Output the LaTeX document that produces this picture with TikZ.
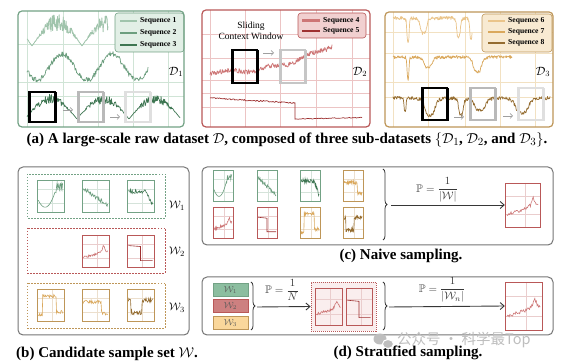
\documentclass[tikz,border=0pt]{standalone}
\usepackage{fontspec}
\usepackage{amsmath,amssymb}
\setmainfont{Liberation Serif}
\newfontfamily\cjkfont{Noto Sans CJK SC}
\usetikzlibrary{arrows.meta,decorations.pathreplacing,calc}
\definecolor{cgB}{RGB}{115,162,133}
\definecolor{cg1}{RGB}{160,196,172}
\definecolor{cg2}{RGB}{108,158,126}
\definecolor{cg3}{RGB}{62,118,82}
\definecolor{cgG}{RGB}{208,228,214}
\definecolor{cgL}{RGB}{226,239,230}
\definecolor{crB}{RGB}{185,88,88}
\definecolor{cr1}{RGB}{205,118,118}
\definecolor{cr2}{RGB}{158,48,48}
\definecolor{crG}{RGB}{236,196,196}
\definecolor{crL}{RGB}{241,208,208}
\definecolor{coB}{RGB}{190,150,88}
\definecolor{co1}{RGB}{234,196,138}
\definecolor{co2}{RGB}{218,168,92}
\definecolor{co3}{RGB}{148,108,48}
\definecolor{coG}{RGB}{242,225,194}
\definecolor{coL}{RGB}{248,234,210}
\definecolor{pnl}{RGB}{118,118,118}
\definecolor{arr}{RGB}{55,55,55}
\definecolor{wm}{RGB}{190,190,190}
\definecolor{wgF}{RGB}{140,190,160}
\definecolor{wrF}{RGB}{205,128,128}
\definecolor{woF}{RGB}{250,215,155}
\definecolor{pinkF}{RGB}{250,238,238}
\newcommand{\thumb}[7]{%
  \begin{scope}[shift={(#2,#3)},x=#4pt,y=-#5pt]
    \draw[#6!30, line width=0.4pt] (0.58,0)--(0.58,1) (0,0.3)--(1,0.3) (0,0.72)--(1,0.72);
    #7
    \draw[#6, line width=0.9pt] (0,0) rectangle (1,1);
    \node[inner sep=0pt, minimum width=#4pt, minimum height=#5pt] (#1) at (0.5,0.5) {};
  \end{scope}}
\newcommand{\cGa}{\draw[cg2, line width=0.6pt] plot[domain=0.05:0.95,samples=45] (\x,{max(0.2,0.85-3.5*(\x-0.3)*(\x-0.3))+0.12*(\x>0.68)*rand});}
\newcommand{\cGb}{\draw[cg2, line width=0.6pt] plot[domain=0.05:0.95,samples=45] (\x,{0.22+0.6*\x+0.07*rand});}
\newcommand{\cGc}{\draw[cg3, line width=0.6pt] plot[domain=0.05:0.95,samples=45] (\x,{0.35+(\x>0.7)*(\x-0.7)*1.8+0.07*rand});}
\newcommand{\cRa}{\draw[cr1, line width=0.6pt] plot[domain=0.05:0.95,samples=45] (\x,{0.72-0.22*\x-0.2/(1+(abs(\x-0.8)/0.05)^2)+0.04*rand});}
\newcommand{\cRb}{\draw[cr2, line width=0.6pt] (0.05,0.33) -- (0.5,0.36) -- (0.5,0.8) -- (0.95,0.8);}
\newcommand{\cOa}{\draw[co2, line width=0.6pt] plot[domain=0.05:0.95,samples=45] (\x,{0.22+0.6*(\x<0.2)+0.5*(\x>0.72)+0.05*rand});}
\newcommand{\cOb}{\draw[co2, line width=0.6pt] plot[domain=0.05:0.95,samples=45] (\x,{0.4+0.35*(\x>0.72)+0.06*rand});}
\newcommand{\cOc}{\draw[co3, line width=0.6pt] plot[domain=0.05:0.95,samples=45] (\x,{0.35+0.38*(\x>0.15)*(\x<0.55)+0.07*rand});}
\newcommand{\slidewin}[3]{\draw[#1, line width=1.2pt] #2 rectangle #3; \draw[#1, line width=0.5pt, shift={(0.9,0.7)}] #2 rectangle #3;}
\begin{document}
\pgfmathsetseed{11}
\begin{tikzpicture}[x=1pt,y=-1pt,
  declare function={hs(\ta,\tc,\tp)=0.5-0.5*cos(360/\tp*(\ta-\tc)); dip(\ta,\tc,\tw)=1/(1+(min(abs(\ta-\tc)/\tw,6))^4);},
  frameD/.style={line width=1.2pt, rounded corners=4pt},
  ser/.style={line width=0.7pt, line join=round},
  legbox/.style={rounded corners=3pt, line width=0.6pt},
  legtxt/.style={font=\fontsize{7.6}{8}\selectfont\bfseries, anchor=west, inner sep=0pt},
  legline/.style={line width=2.4pt},
  smallarr/.style={draw=gray!75, line width=0.7pt, -{Straight Barb[length=2.5pt,width=5pt]}},
  bigarr/.style={draw=arr, line width=0.9pt, -{Straight Barb[length=4pt,width=7pt]}},
  captxt/.style={font=\fontsize{15}{16}\selectfont\bfseries, inner sep=0pt},
  dlab/.style={font=\fontsize{12}{13}\selectfont, inner sep=0pt},
  wlab/.style={font=\fontsize{11}{12}\selectfont, inner sep=0pt},
  plab/.style={font=\fontsize{11}{12}\selectfont, text=arr, inner sep=0pt},
  pnlbox/.style={draw=pnl, line width=1pt, rounded corners=5pt},
  brc/.style={decorate, decoration={brace, amplitude=4pt}, line width=0.8pt, draw=arr},
  wbox/.style={minimum width=35pt, minimum height=13pt, inner sep=0pt, line width=0.7pt, text=black!65, font=\fontsize{9}{10}\selectfont}
]
\useasboundingbox (0,0) rectangle (566,363);
\fill[white] (0,0) rectangle (566,363);

% ===================== D1 =====================
\begin{scope}
\clip (18,11) rectangle (184,127);
\draw[cgG, line width=0.6pt] (27,11)--(27,127) (63,11)--(63,127) (98,11)--(98,127) (133,11)--(133,127) (168,11)--(168,127)
  (18,44)--(184,44) (18,82)--(184,82) (18,96)--(184,96);
\end{scope}
\draw[cg1, ser, line width=0.8pt] plot[domain=27:108, samples=200] (\x,{46-23*sqrt(abs(hs(\x,32,50)))+9*hs(\x,32,50)*rand});
\draw[cg2, ser] plot[domain=27:148, samples=240] (\x,{67-13*cos(7.2*(\x-62))+2.6*rand});
\draw[cg3, ser] plot[domain=27:180, samples=300] (\x,{119-20*sqrt(abs(hs(\x,25,52)))+5*hs(\x,25,52)*rand});
\slidewin{black}{(29,92)}{(55,122)}
\slidewin{gray!55}{(78,92)}{(103,122)}
\slidewin{gray!25}{(125,92)}{(150,122)}
\coordinate (a1s) at (63,110); \coordinate (a1e) at (73,110);
\coordinate (a2s) at (110,117); \coordinate (a2e) at (120,117);
\draw[smallarr] (a1s) -- (a1e);
\draw[smallarr] (a2s) -- (a2e);
\draw[legbox, draw=cgB, fill=cgL] (115,13) rectangle (184,52);
\draw[legline, cg1] (120,21) -- (137,21); \node[legtxt] (l1) at (140,21) {Sequence 1};
\draw[legline, cg2] (120,33) -- (137,33); \node[legtxt] (l2) at (140,33) {Sequence 2};
\draw[legline, cg3] (120,45) -- (137,45); \node[legtxt] (l3) at (140,45) {Sequence 3};
\node[dlab] (d1) at (176,72) {$\mathcal{D}_1$};
\draw[frameD, draw=cgB] (18,11) rectangle (184,127);

% ===================== D2 =====================
\begin{scope}
\clip (202,10) rectangle (370,127);
\draw[crG, line width=0.6pt] (210,10)--(210,127) (245,10)--(245,127) (280,10)--(280,127) (316,10)--(316,127) (352,10)--(352,127)
  (202,34)--(370,34) (202,58)--(370,58) (202,80)--(370,80) (202,93)--(370,93) (202,107)--(370,107);
\end{scope}
\draw[cr1, ser] plot[domain=210:332, samples=240] (\x,{72-27*((\x-209)/123)^2.5+1.6*sin(9*\x)+2.4*rand});
\draw[cr2, ser] plot[domain=210:295, samples=90] (\x,{98+5*(\x-210)/85+0.7*rand}) -- plot[domain=295:362,samples=60] (\x,{119-1.5*(\x-295)/67+0.4*rand});
\slidewin{black}{(232,50)}{(257,83)}
\slidewin{gray!45}{(280,50)}{(305,83)}
\coordinate (a3s) at (263,53); \coordinate (a3e) at (274,53);
\draw[smallarr] (a3s) -- (a3e);
\node[font=\fontsize{9.5}{11}\selectfont, align=center, inner sep=0pt] (sw) at (251,31) {Sliding\\Context Window};
\draw[legbox, draw=crB, fill=crL] (298,13) rectangle (366,38);
\draw[legline, cr1] (302,20.5) -- (320,20.5); \node[legtxt] (l4) at (323,20.5) {Sequence 4};
\draw[legline, cr2] (302,31) -- (320,31); \node[legtxt] (l5) at (323,31) {Sequence 5};
\node[dlab] (d2) at (360,72) {$\mathcal{D}_2$};
\draw[frameD, draw=crB] (202,10) rectangle (370,127);

% ===================== D3 =====================
\begin{scope}
\clip (385,12) rectangle (553,127);
\draw[coG, line width=0.6pt] (393,12)--(393,127) (428,12)--(428,127) (465,12)--(465,127) (500,12)--(500,127) (535,12)--(535,127)
  (385,32)--(553,32) (385,53)--(553,53) (385,82)--(553,82) (385,97)--(553,97);
\end{scope}
\draw[co1, ser] plot[domain=393:472, samples=200] (\x,{18+24*dip(\x,408,1.2)+15*dip(\x,423.5,3.5)+19*dip(\x,458.5,2)+20*dip(\x,471,1.5)+1.8*rand});
\draw[co2, ser] plot[domain=393:512, samples=260] (\x,{57+23*dip(\x,408,1)+10*dip(\x,428,4.5)+15*dip(\x,477.5,4.5)+1.6*rand});
\draw[co3, ser] plot[domain=393:550, samples=330] (\x,{98+13*dip(\x,405,1.2)+17*dip(\x,430,5.5)+17*dip(\x,461,2.5)+12*dip(\x,480,6)+15*dip(\x,522,7)+1.8*rand});
\slidewin{black}{(422,88)}{(447,120)}
\slidewin{gray!55}{(470,88)}{(495,120)}
\slidewin{gray!25}{(518,88)}{(543,120)}
\coordinate (a4s) at (454,117); \coordinate (a4e) at (464,117);
\coordinate (a5s) at (503,116); \coordinate (a5e) at (513,116);
\draw[smallarr] (a4s) -- (a4e);
\draw[smallarr] (a5s) -- (a5e);
\draw[legbox, draw=coB, fill=coL] (482,14) rectangle (552,52);
\draw[legline, co1] (488,21) -- (505,21); \node[legtxt] (l6) at (508,21) {Sequence 6};
\draw[legline, co2] (488,32) -- (505,32); \node[legtxt] (l7) at (508,32) {Sequence 7};
\draw[legline, co3] (488,43) -- (505,43); \node[legtxt] (l8) at (508,43) {Sequence 8};
\node[dlab] (d3) at (543,72) {$\mathcal{D}_3$};
\draw[frameD, draw=coB] (385,12) rectangle (553,127);

\node[captxt] (capa) at (287,140) {(a) A large-scale raw dataset $\mathcal{D}$, composed of three sub-datasets $\{\mathcal{D}_1$, $\mathcal{D}_2$, and $\mathcal{D}_3\}$.};

% ===================== (b) =====================
\draw[pnlbox] (18,167) rectangle (189,335);
\draw[cgB, line width=0.8pt, dash pattern=on 1.5pt off 1.5pt] (27,174) rectangle (165,218);
\draw[crB, line width=0.8pt, dash pattern=on 1.5pt off 1.5pt] (27,228) rectangle (165,273);
\draw[coB, line width=0.8pt, dash pattern=on 1.5pt off 1.5pt] (27,283) rectangle (165,328);
\thumb{b11}{37}{180}{27}{32}{cgB}{\cGa}
\thumb{b12}{82}{180}{27}{32}{cgB}{\cGb}
\thumb{b13}{127}{180}{27}{32}{cgB}{\cGc}
\thumb{b22}{82}{235}{27}{32}{crB}{\cRa}
\thumb{b23}{127}{235}{27}{32}{crB}{\cRb}
\thumb{b31}{37}{289}{27}{32}{coB}{\cOa}
\thumb{b32}{82}{289}{27}{32}{coB}{\cOb}
\thumb{b33}{127}{289}{27}{32}{coB}{\cOc}
\node[wlab] (w1) at (177,206) {$\mathcal{W}_1$};
\node[wlab] (w2) at (177,252) {$\mathcal{W}_2$};
\node[wlab] (w3) at (177,308) {$\mathcal{W}_3$};
\node[captxt, anchor=west] (capb) at (16,354) {(b) Candidate sample set $\mathcal{W}$.};

% ===================== (c) =====================
\draw[pnlbox] (202,167) rectangle (553,245);
\thumb{c11}{213}{170}{20}{31}{cgB}{\cGa}
\thumb{c12}{257}{170}{20}{31}{cgB}{\cGb}
\thumb{c13}{300}{170}{20}{31}{cgB}{\cGc}
\thumb{c14}{343}{170}{20}{31}{coB}{\cOb}
\thumb{c21}{213}{207}{20}{31}{crB}{\cRa}
\thumb{c22}{257}{207}{20}{31}{crB}{\cRb}
\thumb{c23}{300}{207}{20}{31}{coB}{\cOa}
\thumb{c24}{343}{207}{20}{31}{coB}{\cOc}
\coordinate (bc1) at (383,169); \coordinate (bc2) at (383,240);
\draw[brc] (bc1) -- (bc2);
\thumb{cout}{505}{183}{35}{44}{crB}{\cRa}
\coordinate (ca) at (391,205);
\draw[bigarr] (ca) -- (cout.west);
\node[plab] (pc) at (437,190) {$\mathbb{P}=\dfrac{1}{|\mathcal{W}|}$};
\node[captxt] (capc) at (401,256) {(c) Naive sampling.};

% ===================== (d) =====================
\draw[pnlbox] (202,277) rectangle (553,335);
\node[wbox, draw=cgB, fill=wgF] (dw1) at (230.5,289.5) {$\mathcal{W}_1$};
\node[wbox, draw=crB, fill=wrF] (dw2) at (230.5,306) {$\mathcal{W}_2$};
\node[wbox, draw=coB, fill=woF] (dw3) at (230.5,323) {$\mathcal{W}_3$};
\coordinate (bd1) at (251,282); \coordinate (bd2) at (251,330);
\draw[brc] (bd1) -- (bd2);
\node[draw=crB, fill=pinkF, line width=0.8pt, dash pattern=on 1pt off 1pt, minimum width=65pt, minimum height=49pt, inner sep=0pt] (dbox) at (343.5,306.5) {};
\thumb{d1}{315}{288}{27}{37}{crB}{\cRa}
\thumb{d2}{346}{288}{26}{37}{crB}{\cRb}
\coordinate (da) at (257,307);
\draw[bigarr] (da) -- (dbox.west);
\node[plab] (pd1) at (282,290) {$\mathbb{P}=\dfrac{1}{N}$};
\coordinate (bd3) at (383,282); \coordinate (bd4) at (383,330);
\draw[brc] (bd3) -- (bd4);
\thumb{dout}{505}{282}{37}{48}{crB}{\cRa}
\coordinate (db) at (389,307);
\draw[bigarr] (db) -- (dout.west);
\node[plab] (pd2) at (442,290) {$\mathbb{P}=\dfrac{1}{|\mathcal{W}_n|}$};
\node[captxt] (capd) at (408,353) {(d) Stratified sampling.};

% watermark
\fill[wm] (380,339) ellipse (6.5pt and 5.5pt);
\draw[white, line width=1pt, fill=wm] (388,344) ellipse (5.5pt and 4.5pt);
\node[text=wm, font=\cjkfont\fontsize{14.5}{15}\selectfont, anchor=west, inner sep=0pt] (wmt) at (397,340) {公众号 · 科学最Top};
\end{tikzpicture}
\end{document}
